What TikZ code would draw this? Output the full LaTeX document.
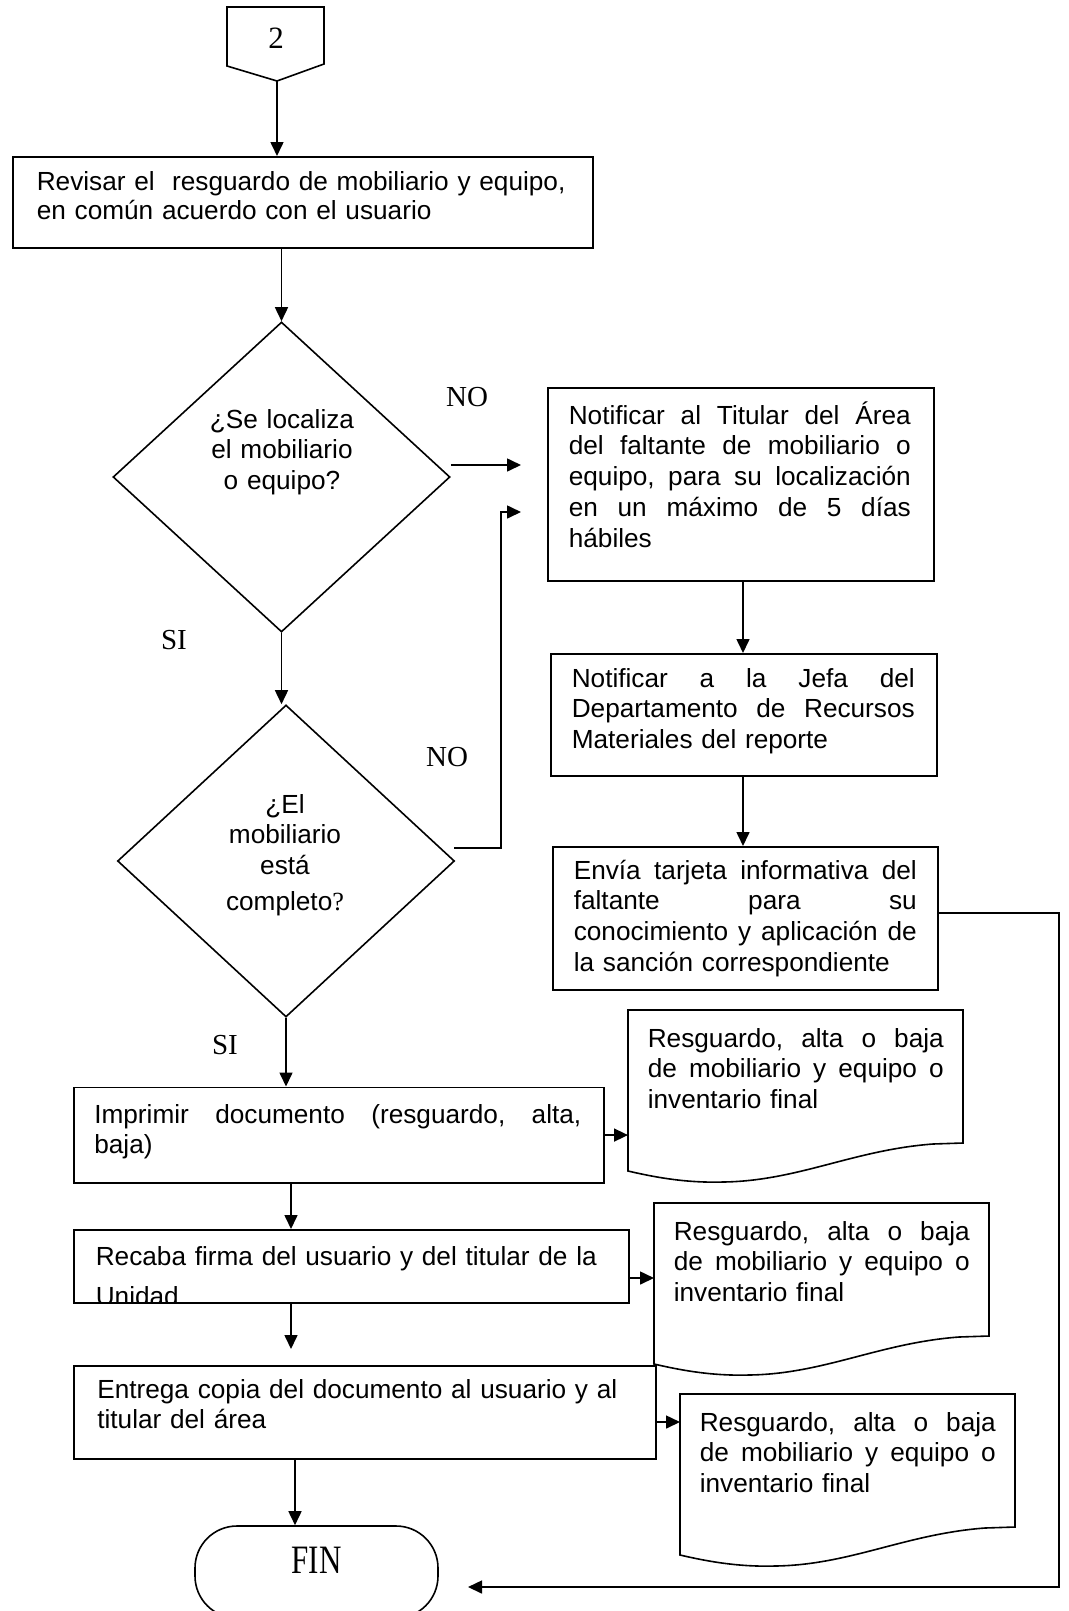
\documentclass[tikz,border=0pt]{standalone}
\usepackage{fontspec}
\usepackage{graphicx}
\setmainfont{Liberation Serif}
\newfontfamily\arialfont{Liberation Sans}
\usetikzlibrary{arrows.meta,shapes.geometric,calc}

\tikzset{
  box/.style={draw, rectangle, inner sep=0pt, anchor=north west},
  dec/.style={draw, diamond, inner sep=0pt},
  txt/.style={font=\arialfont\fontsize{26.2}{30.8}\selectfont, inner sep=0pt, align=left, anchor=base west},
  ctxt/.style={txt, align=center, anchor=base},
  lbl/.style={font=\fontsize{29}{30}\selectfont, inner sep=0pt},
  flow/.style={-{Triangle[length=14pt,width=13pt]}},
  pics/docshape/.style={code={
    \draw (0,0) -- (335,0) -- (335,133) -- (305,134)
      .. controls (225,140) and (170,171) .. (95,172)
      .. controls (60,173) and (30,168) .. (0,161) -- cycle;
  }},
}
% justified line of a text block: width, words separated by \hfill
\newcommand\jline[2]{\leavevmode\hbox to #1{#2}}

\begin{document}
\begin{tikzpicture}[x=1pt, y=-1pt, line width=1.6pt]
\fill[white] (0,0) rectangle (1068,1611);
\useasboundingbox (0,0) rectangle (1068,1611);

% off-page connector
\coordinate (c2tip) at (277,81);
\draw (227,7) -- (324,7) -- (324,64) -- (c2tip) -- (227,66) -- cycle;
\node[lbl, font=\fontsize{31}{32}\selectfont] (c2) at (276,38) {2};

% left column
\node[box, minimum width=580pt, minimum height=91pt] (b1) at (12,156) {};
\node[txt, text width=545pt, font=\arialfont\fontsize{26.2}{29}\selectfont] (t1) at (36,190)
  {Revisar el\ \ resguardo de mobiliario y equipo,\\en común acuerdo con el usuario};

\node[dec, minimum width=337pt, minimum height=310pt] (d1) at (281.5,477) {};
\node[ctxt, text width=220pt] (q1) at (282,428) {¿Se localiza\\el mobiliario\\o equipo?};

\node[dec, minimum width=337pt, minimum height=312pt] (d2) at (286,861) {};
\node[ctxt, text width=220pt] (q2) at (285,813)
  {¿El\\mobiliario\\está\\[5pt]completo{\rmfamily ?}};

\node[box, minimum width=530pt, minimum height=95.5pt] (b5) at (73,1086.5) {};
\node[txt, text width=487pt] (t5) at (93.5,1123)
  {\jline{487pt}{Imprimir\hfill documento\hfill (resguardo,\hfill alta,}\\baja)};

\node[box, minimum width=555pt, minimum height=73pt] (b6) at (73,1229) {};
\begin{scope}
  \clip (b6.north west) rectangle (b6.south east);
  \node[txt, text width=525pt] (t6) at (95,1265)
    {Recaba firma del usuario y del titular de la\\[10pt]Unidad};
\end{scope}

\node[box, minimum width=582pt, minimum height=93pt] (b7) at (73,1365) {};
\node[txt, text width=550pt] (t7) at (96.5,1398)
  {Entrega copia del documento al usuario y al\\titular del área};

\node[draw, rounded corners=42pt, minimum width=243pt, minimum height=92pt, inner sep=0pt] (fin) at (316.5,1572) {};
\node[lbl, font=\fontsize{31}{32}\selectfont] (fintxt) at (316.5,1560) {\scalebox{1}[1.3]{FIN}};

% right column
\node[box, minimum width=386pt, minimum height=193pt] (b2) at (547,387) {};
\node[txt, text width=342pt] (t2) at (568,424)
  {\jline{342pt}{Notificar\hfill al\hfill Titular\hfill del\hfill Área}\\
   \jline{342pt}{del\hfill faltante\hfill de\hfill mobiliario\hfill o}\\
   \jline{342pt}{equipo,\hfill para\hfill su\hfill localización}\\
   \jline{342pt}{en\hfill un\hfill máximo\hfill de\hfill 5\hfill días}\\
   hábiles};

\node[box, minimum width=386pt, minimum height=122pt] (b3) at (550,653) {};
\node[txt, text width=343pt] (t3) at (571,687)
  {\jline{343pt}{Notificar\hfill a\hfill la\hfill Jefa\hfill del}\\
   \jline{343pt}{Departamento\hfill de\hfill Recursos}\\
   Materiales del reporte};

\node[box, minimum width=385pt, minimum height=143pt] (b4) at (552,846) {};
\node[txt, text width=343pt] (t4) at (573,879)
  {\jline{343pt}{Envía\hfill tarjeta\hfill informativa\hfill del}\\
   \jline{343pt}{faltante\hfill para\hfill su}\\
   \jline{343pt}{conocimiento\hfill y\hfill aplicación\hfill de}\\
   la sanción correspondiente};

% documents
\coordinate (doc1) at (628,1010);
\coordinate (doc2) at (654,1203);
\coordinate (doc3) at (680,1394);
\pic at (doc1) {docshape};
\pic at (doc2) {docshape};
\pic at (doc3) {docshape};
\node[txt, text width=296pt] (r1) at ($(doc1)+(19,37)$)
  {\jline{296pt}{Resguardo,\hfill alta\hfill o\hfill baja}\\\jline{296pt}{de\hfill mobiliario\hfill y\hfill equipo\hfill o}\\inventario final};
\node[txt, text width=296pt] (r2) at ($(doc2)+(19,37)$)
  {\jline{296pt}{Resguardo,\hfill alta\hfill o\hfill baja}\\\jline{296pt}{de\hfill mobiliario\hfill y\hfill equipo\hfill o}\\inventario final};
\node[txt, text width=296pt] (r3) at ($(doc3)+(19,37)$)
  {\jline{296pt}{Resguardo,\hfill alta\hfill o\hfill baja}\\\jline{296pt}{de\hfill mobiliario\hfill y\hfill equipo\hfill o}\\inventario final};

% labels
\node[lbl] (no1) at (467,397) {NO};
\node[lbl] (si1) at (174,640) {SI};
\node[lbl] (no2) at (447,757) {NO};
\node[lbl] (si2) at (225,1045) {SI};

% connectors
\coordinate (colL) at (291,0);
\coordinate (colF) at (295,0);
\coordinate (colR) at (743,0);
\coordinate (n1end) at (521,465);
\coordinate (n2start) at (454,848);
\coordinate (n2turn) at (501,848);
\coordinate (n2end) at (521,512);
\coordinate (retx) at (1059,913);
\coordinate (retbot) at (1059,1587);
\coordinate (finarr) at (468,1587);
\coordinate (a6) at (654,1278);
\coordinate (a7) at (680,1422);

\draw[flow] (c2tip) -- (c2tip |- b1.north);
\draw[flow] (d1.north |- b1.south) -- (d1.north);
\draw[flow] (d1.south) -- (d1.south |- d2.north);
\draw[flow] (d2.south) -- (d2.south |- b5.north);
\draw[flow] (b5.south -| colL) -- (b6.north -| colL);
\draw[flow] (b6.south -| colL) -- ($(b7.north -| colL)+(0,-16)$);
\draw[flow] (b7.south -| colF) -- (fin.north -| colF);

\draw[flow] (d1.east |- n1end) -- (n1end);
\draw[flow] (n2start) -- (n2turn) -- (n2turn |- n2end) -- (n2end);
\draw[flow] (b2.south -| colR) -- (b3.north -| colR);
\draw[flow] (b3.south -| colR) -- (b4.north -| colR);
\draw[flow] (b4.east |- retx) -- (retx) -- (retbot) -- (finarr);

\draw[flow] (b5.east) -- (b5.east -| doc1);
\draw[flow] (b6.east |- a6) -- (a6);
\draw[flow] (b7.east |- a7) -- (a7);
\end{tikzpicture}
\end{document}
